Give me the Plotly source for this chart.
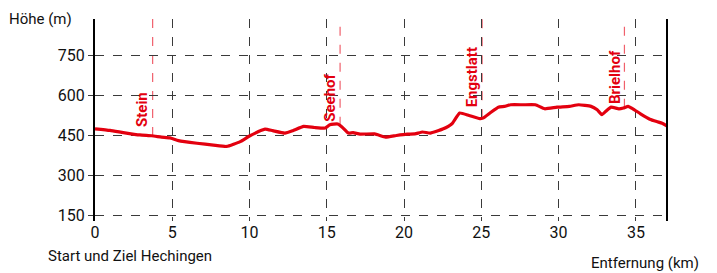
import numpy as np
import plotly.graph_objects as go

km = [0.0, 0.97, 1.83, 2.9, 3.67, 4.3, 4.85, 5.4, 6.6, 7.66, 8.52, 9.4, 10.0,
      11.0, 11.5, 12.3, 12.8, 13.5, 14.2, 14.9, 15.2, 15.7, 16.0, 16.4, 16.7,
      17.15, 18.1, 18.8, 19.5, 20.2, 20.7, 21.2, 21.7, 22.5, 23.1, 23.6, 24.2,
      24.9, 25.1, 25.6, 26.1, 26.5, 26.9, 27.7, 28.5, 29.1, 29.9, 30.7, 31.3,
      32.1, 32.5, 32.8, 33.1, 33.4, 33.9, 34.2, 34.5, 34.8, 35.3, 35.9, 36.35,
      36.7, 37.0]
elev = [475, 469, 461, 452, 449, 444, 441, 431, 421, 414, 409, 427, 448,
        474, 468, 459, 468, 484, 480, 478, 490, 493, 481, 459, 461,
        455, 456, 444, 450, 455, 456, 463, 459, 474, 494, 534, 525,
        513, 515, 536, 556, 559, 565, 565, 565, 550, 556, 559, 565,
        559, 546, 528, 543, 556, 550, 553, 559, 550, 531, 511, 502,
        496, 486]

places = ["Stein", "Seehof", "Engstlatt", "Brielhof"]
place_km = [3.73, 15.86, 25.05, 34.26]

y_ticks = [150, 300, 450, 600, 750]
x_ticks = [0, 5, 10, 15, 20, 25, 30, 35]

RED = "#e3000f"
MARK = "#f0606c"
GRID = "#3a3a3a"
TXT = "#111111"
FONT = "Roboto"
Y_RANGE = [130, 886]
X_RANGE = [0, 36.95]
LABEL_SHIFT = [7, 2, 9, 2]

fig = go.Figure()
fig.add_trace(go.Scatter(x=km, y=elev, mode="lines",
                         line=dict(color=RED, width=3.2, shape="spline", smoothing=0.4),
                         hoverinfo="skip", showlegend=False))

for name, pk, ys in zip(places, place_km, LABEL_SHIFT):
    ye = float(np.interp(pk, km, elev))
    fig.add_shape(type="line", xref="x", yref="y", x0=pk, x1=pk, y0=ye, y1=Y_RANGE[1],
                  line=dict(color=MARK, width=1.2, dash="dash"), layer="below")
    fig.add_annotation(x=pk, y=ye, xref="x", yref="y", text="<b>%s</b>" % name,
                       textangle=-90, showarrow=False, xanchor="right", yanchor="bottom",
                       xshift=1, yshift=ys, font=dict(family=FONT, size=15, color=RED))

fig.add_annotation(x=0, y=1.0, xref="paper", yref="paper", text="Höhe (m)",
                   showarrow=False, xanchor="right", yanchor="middle", xshift=-21, yshift=0,
                   font=dict(family=FONT, size=15, color=TXT))
fig.add_annotation(x=0, y=0, xref="paper", yref="paper", text="Start und Ziel Hechingen",
                   showarrow=False, xanchor="left", yanchor="middle", xshift=-49, yshift=-35,
                   font=dict(family=FONT, size=15, color=TXT))
fig.add_annotation(x=1, y=0, xref="paper", yref="paper", text="Entfernung (km)",
                   showarrow=False, xanchor="right", yanchor="middle", xshift=35, yshift=-42,
                   font=dict(family=FONT, size=15, color=TXT))

fig.update_xaxes(range=X_RANGE, tickvals=x_ticks, showgrid=True, gridcolor=GRID,
                 griddash="dash", gridwidth=1, zeroline=False, showline=False,
                 ticks="", ticklen=0, tickfont=dict(family=FONT, size=16, color=TXT))
fig.update_yaxes(range=Y_RANGE, tickvals=y_ticks, showgrid=True, gridcolor=GRID,
                 griddash="dash", gridwidth=1, zeroline=False, showline=True,
                 linecolor="#000000", linewidth=2, mirror=True,
                 ticks="outside", ticklen=5, tickcolor=GRID,
                 tickfont=dict(family=FONT, size=16, color=TXT))

fig.update_layout(width=717, height=273, margin=dict(l=95, r=51, t=19, b=52),
                  plot_bgcolor="white", paper_bgcolor="white",
                  font=dict(family=FONT))
fig.write_html("out.html", config={"displayModeBar": False},
               post_script="document.body.style.margin='0px';")
